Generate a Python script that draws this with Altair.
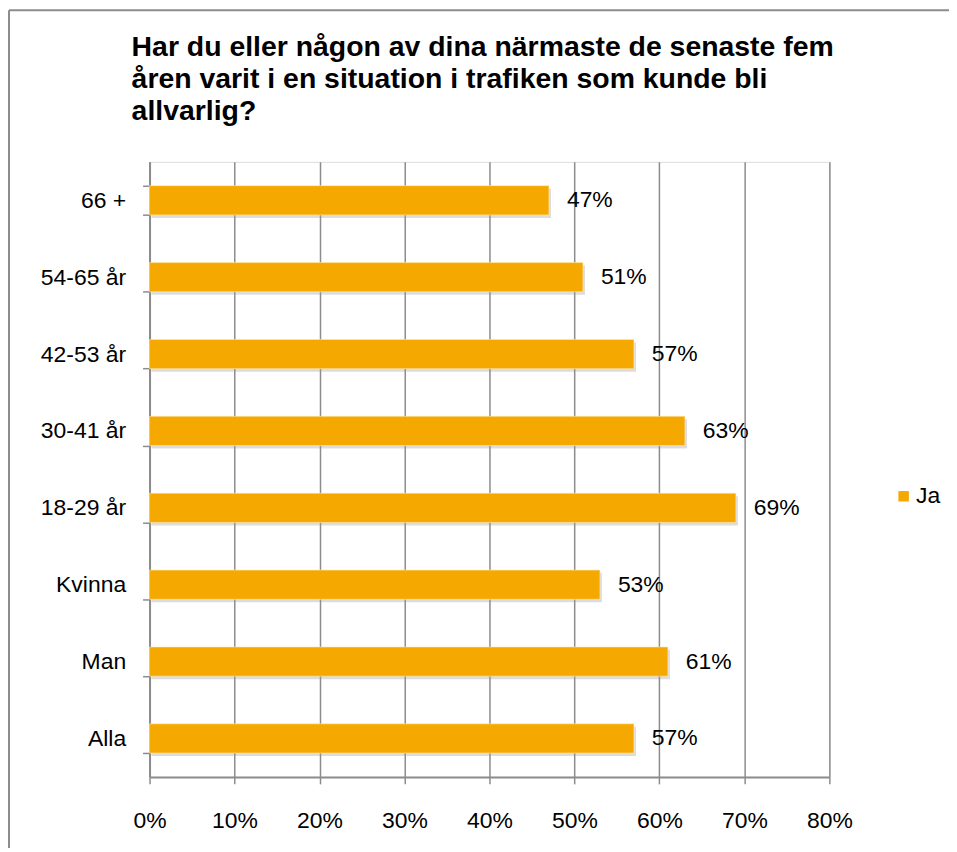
import altair as alt
import pandas as pd

categories = ["66 +", "54-65 år", "42-53 år", "30-41 år", "18-29 år", "Kvinna", "Man", "Alla"]
values = [0.47, 0.51, 0.57, 0.63, 0.69, 0.53, 0.61, 0.57]
series = ["Ja"] * len(categories)
x_ticks = [0, 0.1, 0.2, 0.3, 0.4, 0.5, 0.6, 0.7, 0.8]

df = pd.DataFrame({"kategori": categories, "andel": values, "serie": series})

FONT = "Liberation Sans"
FS = 23
ORANGE = "#F5A800"
GRAY = "#8C8C8C"

y_enc = alt.Y(
    "kategori:N",
    sort=categories,
    title=None,
    scale=alt.Scale(paddingInner=0.62, paddingOuter=0.31),
    axis=alt.Axis(
        tickBand="extent",
        tickSize=7,
        tickColor=GRAY,
        tickWidth=1.5,
        domainColor=GRAY,
        domainWidth=2,
        labelFont=FONT,
        labelFontSize=FS,
        labelColor="#000",
        labelPadding=17,
        grid=False,
    ),
)

x_enc = alt.X(
    "andel:Q",
    title=None,
    scale=alt.Scale(domain=[0, 0.8], nice=False),
    axis=alt.Axis(
        values=x_ticks,
        format=".0%",
        tickSize=7,
        tickColor=GRAY,
        tickWidth=1.5,
        domainColor=GRAY,
        domainWidth=2,
        grid=True,
        gridColor=GRAY,
        gridWidth=1.5,
        labelFont=FONT,
        labelFontSize=FS,
        labelColor="#000",
        labelPadding=26,
        labelFlush=False,
        labelOverlap=False,
    ),
)

base = alt.Chart(df)

shadow = base.mark_bar(color="#9a9a9a", opacity=0.35, xOffset=2, yOffset=3).encode(
    x=x_enc, y=y_enc
)

bars = base.mark_bar(stroke="#FFE9B0", strokeWidth=0.6).encode(
    x=x_enc,
    y=y_enc,
    color=alt.Color(
        "serie:N",
        scale=alt.Scale(domain=["Ja"], range=[ORANGE]),
        legend=alt.Legend(
            title=None,
            orient="none",
            legendX=745,
            legendY=324,
            symbolType="square",
            symbolSize=110,
            symbolStrokeWidth=0,
            labelFont=FONT,
            labelFontSize=FS,
            labelColor="#000",
            labelOffset=1,
            padding=0,
        ),
    ),
)

labels = base.mark_text(
    align="left", baseline="middle", dx=18, font=FONT, fontSize=FS, color="#000"
).encode(
    x="andel:Q",
    y=alt.Y("kategori:N", sort=categories),
    text=alt.Text("andel:Q", format=".0%"),
)

border_df = pd.DataFrame({"b": [0]})
left_border = alt.Chart(border_df).mark_rule(color=GRAY, strokeWidth=2).encode(
    x=alt.value(-141), y=alt.value(-152), y2=alt.value(700)
)
top_border = alt.Chart(border_df).mark_rule(color=GRAY, strokeWidth=2).encode(
    x=alt.value(-141), x2=alt.value(810), y=alt.value(-152)
)

chart = (
    alt.layer(left_border, top_border, shadow, bars, labels)
    .properties(
        width=682,
        height=617,
        autosize=alt.AutoSizeParams(type="none"),
        padding={"left": 142, "top": 153, "right": 120, "bottom": 70},
        title=alt.Title(
            [
                "Har du eller någon av dina närmaste de senaste fem",
                "åren varit i en situation i trafiken som kunde bli",
                "allvarlig?",
            ],
            anchor="start",
            frame="group",
            dx=-18,
            offset=-117,
            font=FONT,
            fontSize=28.5,
            fontWeight="bold",
            lineHeight=32.5,
            color="#000",
        ),
    )
    .configure_view(stroke=None)
    .configure(background="white")
)

chart.save("out.html", embed_options={"renderer": "svg", "actions": False})
